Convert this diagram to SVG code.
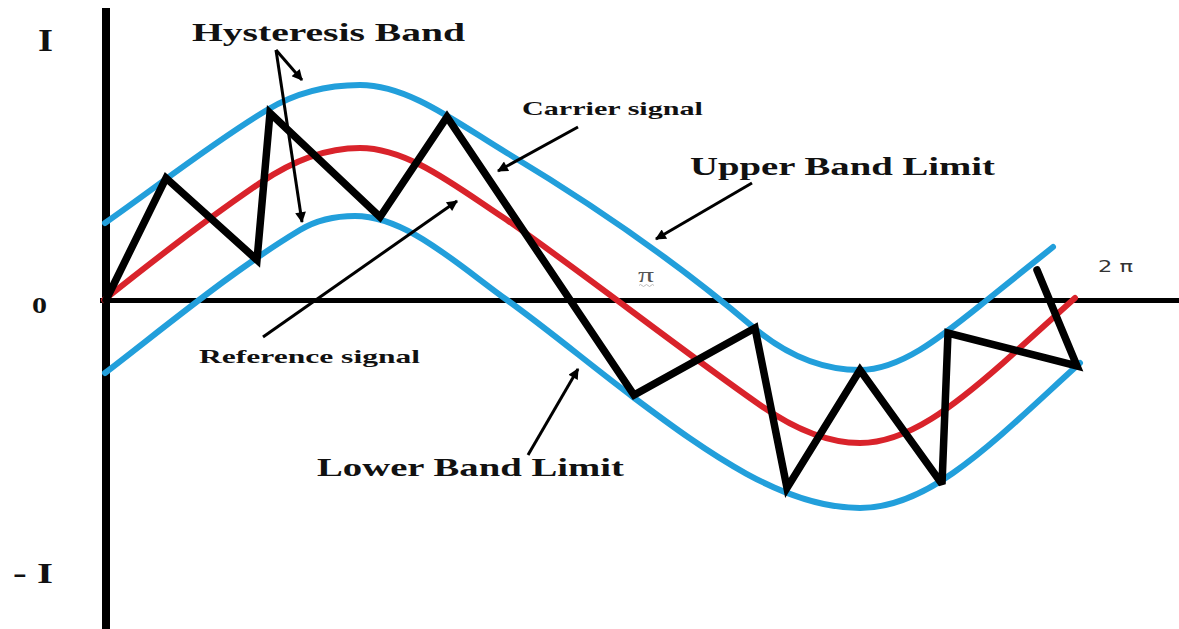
<svg xmlns="http://www.w3.org/2000/svg" width="1179" height="629" viewBox="0 0 1179 629">
  <style>
    .axis { stroke: #000; fill: none; }
    .band { stroke: #229fdb; stroke-width: 6; fill: none; stroke-linecap: round; stroke-linejoin: round; }
    .ref { stroke: #d9232b; stroke-width: 6; fill: none; stroke-linecap: round; stroke-linejoin: round; }
    .carrier { stroke: #000; stroke-width: 7.5; fill: none; stroke-linejoin: miter; stroke-miterlimit: 3; stroke-linecap: round; }
    .arrow { stroke: #000; stroke-width: 3; fill: none; marker-end: url(#ah); }
    .lbl { font-family: "Liberation Serif", "Times New Roman", serif; font-weight: bold; fill: #111; }
    .big { font-size: 25px; }
    .small { font-size: 19px; }
  </style>
  <defs>
    <marker id="ah" viewBox="0 0 10 10" refX="9" refY="5" markerWidth="4.6" markerHeight="3.6" orient="auto" markerUnits="strokeWidth">
      <path d="M0,0 L10,5 L0,10 z" fill="#000"/>
    </marker>
  </defs>
  <rect width="1179" height="629" fill="#fff"/>

  <g id="axes">
    <line class="axis" x1="106" y1="8" x2="106" y2="629" stroke-width="8"/>
    <line class="axis" x1="100" y1="300.5" x2="1179" y2="300.5" stroke-width="5"/>
  </g>

  <g id="curves">
    <path id="upper-band" class="band" d="M105,223 C159,185.2 213,142.4 267,110 C298,91.4 329,85 360,85 C409,85 458,123.6 507,153 C589,202.2 671,257.3 753,327 C788.7,357.3 824.3,370 860,370 C902.3,370 944.7,333.8 987,300 L1053,247"/>
    <path id="lower-band" class="band" d="M105,373 C170,323 235,269 300,230 C318.3,219 336.7,216 355,216 C405.7,216 456.3,263.5 507,300 C549,330.2 591,365.5 633,397 C708.7,453.8 784.3,508 860,508 C891,508 922,494.7 953,473 C995.3,443.4 1037.7,401.1 1080,363"/>
    <path id="reference" class="ref" d="M104,300 C156,258.4 208,218.4 260,183 C293.3,160.3 326.7,148 360,148 C409,148 458,188.1 507,220 C591.3,279 675.7,346 760,405 C793.3,428.3 826.7,443 860,443 C907.7,443 955.3,405 1003,363 L1075,298"/>
    <polyline id="carrier" class="carrier" points="106,300 166,178 257,260 270,113 380,217 447,117 634,395 755,328 787,488 860,370 942,484 948,333 1077,366 1037,270"/>
  </g>

  <g id="connectors">
    <path class="arrow" d="M276,50 L302,80"/>
    <path class="arrow" d="M276,50 L302,222"/>
    <path class="arrow" d="M578,127 L498,171"/>
    <path class="arrow" d="M752,183 L656,239"/>
    <path class="arrow" d="M263,337 L457,201"/>
    <path class="arrow" d="M528,455 L578,369"/>
  </g>

  <g id="label-hysteresis"><text class="lbl big" x="192" y="41" textLength="273" lengthAdjust="spacingAndGlyphs">Hysteresis Band</text></g>
  <g id="label-carrier"><text class="lbl small" x="522" y="115" textLength="181" lengthAdjust="spacingAndGlyphs">Carrier signal</text></g>
  <g id="label-upper"><text class="lbl big" x="690" y="175" textLength="305" lengthAdjust="spacingAndGlyphs">Upper Band Limit</text></g>
  <g id="label-reference"><text class="lbl small" x="199" y="363" textLength="221" lengthAdjust="spacingAndGlyphs">Reference signal</text></g>
  <g id="label-lower"><text class="lbl big" x="317" y="476" textLength="307" lengthAdjust="spacingAndGlyphs">Lower Band Limit</text></g>

  <g id="tick-I"><text class="lbl" font-size="31" x="38" y="51" textLength="15" lengthAdjust="spacingAndGlyphs">I</text></g>
  <g id="tick-0"><text class="lbl" font-size="24" x="32" y="313" textLength="15" lengthAdjust="spacingAndGlyphs">0</text></g>
  <g id="tick-minus-I"><text class="lbl" font-size="30" x="13" y="583" textLength="40" lengthAdjust="spacingAndGlyphs">- I</text></g>
  <g id="tick-pi">
    <text x="638" y="282" font-family="Liberation Serif, serif" font-size="20" fill="#555" textLength="16" lengthAdjust="spacingAndGlyphs">π</text>
    <path d="M639,285.5 q1.5,-2 3,0 t3,0 t3,0 t3,0 t3,0" stroke="#aaa" stroke-width="0.8" fill="none"/>
  </g>
  <g id="tick-2pi"><text x="1098" y="272" font-family="DejaVu Sans, sans-serif" font-size="15" fill="#333" textLength="35" lengthAdjust="spacingAndGlyphs">2 π</text></g>
</svg>
